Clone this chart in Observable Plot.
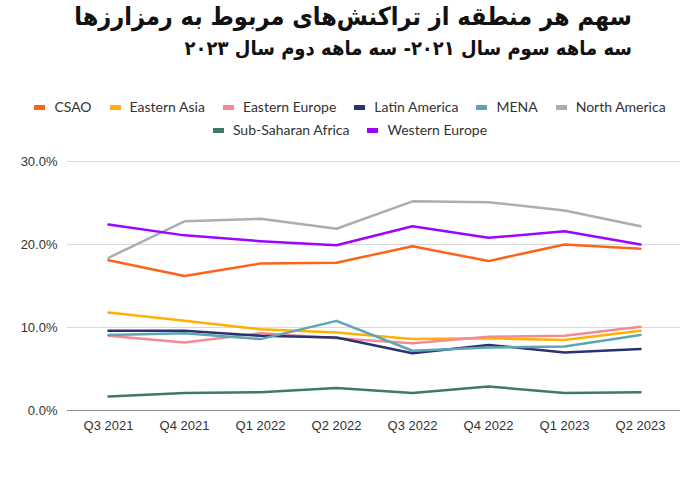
<!DOCTYPE html>
<html>
<head>
<meta charset="utf-8">
<script src="https://cdn.jsdelivr.net/npm/d3@7"></script>
<script src="https://cdn.jsdelivr.net/npm/@observablehq/plot@0.6"></script>
<style>
  html, body { margin: 0; padding: 0; background: #fff; }
  body { width: 700px; height: 500px; position: relative; overflow: hidden; font-family: "Open Sans", sans-serif; }
  #title { position: absolute; top: 2px; right: 68px; direction: rtl; text-align: right;
           font-family: "DejaVu Sans Condensed", "DejaVu Sans", sans-serif; font-stretch: condensed; font-weight: bold; font-size: 25px; color: #111; white-space: nowrap; }
  #subtitle { position: absolute; top: 36px; right: 68px; direction: rtl; text-align: right;
           font-family: "DejaVu Sans Condensed", "DejaVu Sans", sans-serif; font-stretch: condensed; font-weight: bold; font-size: 20px; color: #111; white-space: nowrap; }
  #legend { position: absolute; top: 95px; left: 0; width: 700px; text-align: center; font-family: "Lato", sans-serif; font-size: 14px; color: #333; line-height: 23px; }
  .item { display: inline-block; margin: 0 9px; white-space: nowrap; }
  .sw { display: inline-block; width: 11px; height: 5px; vertical-align: middle; margin-right: 9px; position: relative; top: -1px; }
  #chart { position: absolute; top: 145px; left: 0; }
</style>
</head>
<body>
<div id="title">سهم هر منطقه از تراکنش‌های مربوط به رمزارزها</div>
<div id="subtitle">سه ماهه سوم سال ۲۰۲۱- سه ماهه دوم سال ۲۰۲۳</div>
<div id="legend"></div>
<div id="chart"></div>
<script>
const quarters = ["Q3 2021","Q4 2021","Q1 2022","Q2 2022","Q3 2022","Q4 2022","Q1 2023","Q2 2023"];
const regions = ["CSAO","Eastern Asia","Eastern Europe","Latin America","MENA","North America","Sub-Saharan Africa","Western Europe"];
const colors = ["#ff6319","#ffb000","#f48a95","#2a3272","#5ca5b2","#a9aeb6","#3d7b66","#9b05ff"];
const yTicks = [0, 10, 20, 30];

const csao          = [18.1, 16.2, 17.7, 17.8, 19.8, 18.0, 20.0, 19.5];
const easternAsia   = [11.8, 10.8, 9.8, 9.4, 8.6, 8.7, 8.5, 9.6];
const easternEurope = [9.0, 8.2, 9.3, 8.7, 8.1, 8.9, 9.0, 10.1];
const latinAmerica  = [9.6, 9.6, 9.0, 8.8, 6.9, 7.9, 7.0, 7.4];
const mena          = [9.1, 9.3, 8.6, 10.8, 7.2, 7.6, 7.7, 9.1];
const northAmerica  = [18.4, 22.8, 23.1, 21.9, 25.2, 25.1, 24.1, 22.2];
const subSaharan    = [1.7, 2.1, 2.2, 2.7, 2.1, 2.9, 2.1, 2.2];
const westernEurope = [22.4, 21.1, 20.4, 19.9, 22.2, 20.8, 21.6, 20.0];

const series = [csao, easternAsia, easternEurope, latinAmerica, mena, northAmerica, subSaharan, westernEurope];
const data = [];
regions.forEach((r, i) => quarters.forEach((q, j) => data.push({region: r, quarter: q, value: series[i][j]})));

// legend
const legend = document.getElementById("legend");
const rows = [regions.slice(0, 6), regions.slice(6)];
rows.forEach(row => {
  const div = document.createElement("div");
  row.forEach(r => {
    const span = document.createElement("span");
    span.className = "item";
    const sw = document.createElement("span");
    sw.className = "sw";
    sw.style.background = colors[regions.indexOf(r)];
    span.appendChild(sw);
    span.appendChild(document.createTextNode(r));
    div.appendChild(span);
  });
  legend.appendChild(div);
});

const chart = Plot.plot({
  width: 700,
  height: 310,
  marginTop: 16,
  marginBottom: 45,
  marginLeft: 67,
  marginRight: 20,
  style: { fontFamily: "'Liberation Sans', sans-serif", fontSize: "13px", color: "#333" },
  x: { type: "point", domain: quarters, padding: 0.5, label: null, tickSize: 0, tickPadding: 10 },
  y: { domain: [0, 30], ticks: yTicks, tickFormat: d => d.toFixed(1) + "%", label: null, tickSize: 0, tickPadding: 10 },
  color: { domain: regions, range: colors },
  marks: [
    Plot.gridY(yTicks.filter(d => d > 0), { stroke: "#d9d9d9", strokeOpacity: 1, strokeWidth: 1.2 }),
    Plot.ruleY([0], { stroke: "#8c8c8c", strokeWidth: 1.2 }),
    Plot.line(data, { x: "quarter", y: "value", z: "region", stroke: "region", strokeWidth: 2.5 }),
    Plot.axisX({ tickSize: 0, tickPadding: 10, fontSize: 13 }),
    Plot.axisY({ ticks: yTicks, tickSize: 0, tickPadding: 10, fontSize: 13, tickFormat: d => d.toFixed(1) + "%" })
  ]
});
document.getElementById("chart").appendChild(chart);
</script>
</body>
</html>
